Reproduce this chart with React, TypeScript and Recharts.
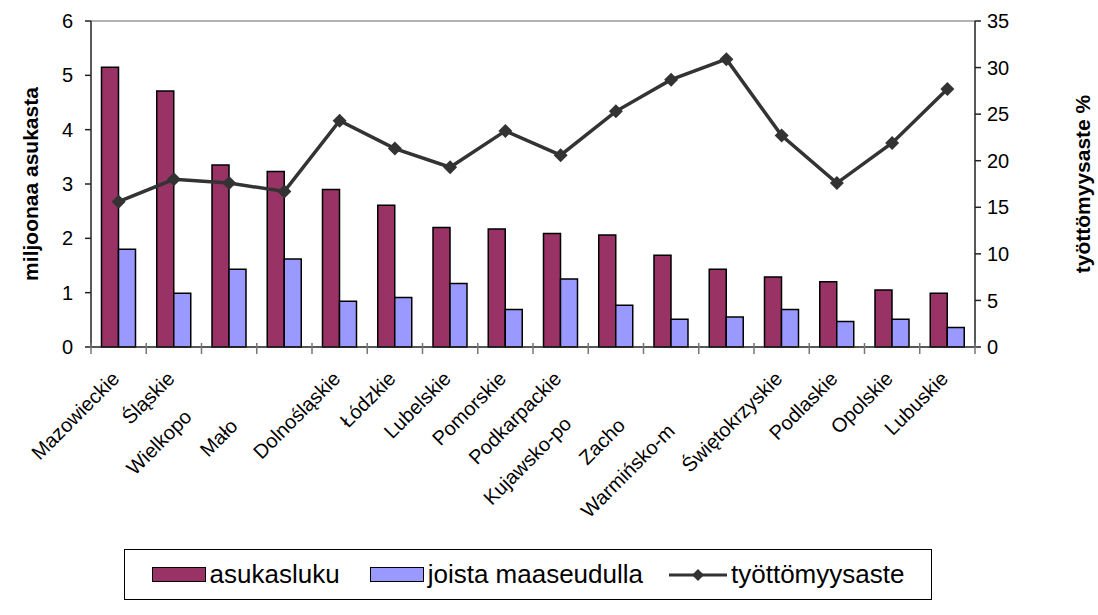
import React from 'react';
import { ComposedChart, Bar, Line, XAxis, YAxis, ReferenceLine } from 'recharts';

const regions = [
  'Mazowieckie', 'Śląskie', 'Wielkopolskie', 'Małopolskie', 'Dolnośląskie', 'Łódzkie',
  'Lubelskie', 'Pomorskie', 'Podkarpackie', 'Kujawsko-pomorskie', 'Zachodniopomorskie',
  'Warmińsko-mazurskie', 'Świętokrzyskie', 'Podlaskie', 'Opolskie', 'Lubuskie',
];
// what is left readable of each name under the axis (long ones get cut)
const tickLabels = [
  'Mazowieckie', 'Śląskie', 'Wielkopo', 'Mało', 'Dolnośląskie', 'Łódzkie',
  'Lubelskie', 'Pomorskie', 'Podkarpackie', 'Kujawsko-po', 'Zacho',
  'Warmińsko-m', 'Świętokrzyskie', 'Podlaskie', 'Opolskie', 'Lubuskie',
];
const population = [5.15, 4.71, 3.35, 3.23, 2.9, 2.61, 2.2, 2.17, 2.09, 2.06, 1.69, 1.43, 1.29, 1.2, 1.05, 0.99];
const rural = [1.8, 0.99, 1.43, 1.62, 0.84, 0.91, 1.17, 0.69, 1.25, 0.77, 0.51, 0.55, 0.69, 0.47, 0.51, 0.36];
const unemployment = [15.6, 18.0, 17.6, 16.7, 24.3, 21.3, 19.3, 23.2, 20.6, 25.3, 28.7, 30.9, 22.7, 17.6, 21.9, 27.7];
const leftTicks = [0, 1, 2, 3, 4, 5, 6];
const rightTicks = [0, 5, 10, 15, 20, 25, 30, 35];

const data = regions.map((name, i) => ({
  name,
  asukasluku: population[i],
  maaseutu: rural[i],
  tyottomyys: unemployment[i],
}));

const FONT = '"Liberation Sans", Arial, sans-serif';
const MAROON = '#993366';
const LILAC = '#9999FF';

// the cut labels sit further down their diagonal than the full ones
const labelShift = [0, 0, 54, 67, 0, 0, 0, 0, 0, 64, 66, 74, 0, 0, 0, 0];

const RegionTick = (props: any) => {
  const { x, y, payload, index } = props;
  const half = payload?.offset ?? 27.6;
  const shift = labelShift[index] ?? 0;
  const ax = x + 2 - shift * 0.707;
  const ay = y + 33 + shift * 0.707;
  return (
    <g>
      {index === 0 && <line x1={x - half} x2={x - half} y1={y - 4} y2={y + 7} stroke="#777" strokeWidth={1.5} />}
      <line x1={x + half} x2={x + half} y1={y - 4} y2={y + 7} stroke="#777" strokeWidth={1.5} />
      <text
        x={ax}
        y={ay}
        transform={`rotate(-45 ${ax} ${ay})`}
        textAnchor="end"
        fontSize={20}
        fontFamily={FONT}
        fill="#000"
      >
        {tickLabels[index]}
      </text>
    </g>
  );
};

const Diamond = (props: any) => {
  const { cx, cy } = props;
  if (cx == null || cy == null) return null;
  const r = 7;
  return <path d={`M${cx},${cy - r}L${cx + r},${cy}L${cx},${cy + r}L${cx - r},${cy}Z`} fill="#333" />;
};

const AxisTitle = ({ viewBox, value, dx }: any) => {
  const cx = viewBox.x + dx;
  const cy = viewBox.y + viewBox.height / 2;
  return (
    <text
      x={cx}
      y={cy}
      transform={`rotate(-90 ${cx} ${cy})`}
      textAnchor="middle"
      dominantBaseline="central"
      fontSize={21}
      fontWeight="bold"
      fontFamily={FONT}
      fill="#000"
    >
      {value}
    </text>
  );
};

const swatch = (color: string) => (
  <span
    style={{
      display: 'inline-block',
      width: 52,
      height: 13,
      background: color,
      border: '1.5px solid #000',
      marginRight: 4,
    }}
  />
);

const LegendBox = () => (
  <div
    style={{
      position: 'absolute',
      left: 124,
      top: 549,
      width: 806,
      height: 49,
      border: '1px solid #000',
      display: 'flex',
      alignItems: 'center',
      justifyContent: 'center',
      fontFamily: FONT,
      fontSize: 26,
      color: '#000',
      whiteSpace: 'nowrap',
    }}
  >
    {swatch(MAROON)}
    <span style={{ marginRight: 30 }}>asukasluku</span>
    {swatch(LILAC)}
    <span style={{ marginRight: 26 }}>joista maaseudulla</span>
    <svg width={58} height={16} style={{ marginRight: 4 }}>
      <line x1={0} x2={58} y1={8} y2={8} stroke="#333" strokeWidth={3} />
      <path d="M29,2L35,8L29,14L23,8Z" fill="#333" />
    </svg>
    <span>työttömyysaste</span>
  </div>
);

export default function App() {
  return (
    <div style={{ position: 'relative', width: 1098, height: 615, background: '#fff', fontFamily: FONT }}>
      <style>{'body{margin:0}'}</style>
      <ComposedChart
        width={1098}
        height={615}
        data={data}
        margin={{ top: 21, right: 0, left: 0, bottom: 0 }}
        barCategoryGap="19%"
        barGap={0}
      >
        <XAxis
          dataKey="name"
          interval={0}
          height={268}
          tickLine={false}
          tickSize={0}
          tickMargin={0}
          axisLine={{ stroke: '#222', strokeWidth: 1.5 }}
          tick={<RegionTick />}
        />
        <YAxis
          yAxisId="left"
          width={91}
          domain={[0, 6]}
          ticks={leftTicks}
          interval={0}
          tickSize={6}
          tickMargin={12}
          axisLine={{ stroke: '#222', strokeWidth: 1.5 }}
          tickLine={{ stroke: '#222', strokeWidth: 1.5 }}
          tick={{ fontSize: 20, fill: '#000', fontFamily: FONT }}
          label={<AxisTitle value="miljoonaa asukasta" dx={30} />}
        />
        <YAxis
          yAxisId="right"
          orientation="right"
          width={123}
          domain={[0, 35]}
          ticks={rightTicks}
          interval={0}
          tickSize={6}
          tickMargin={6}
          axisLine={{ stroke: '#222', strokeWidth: 1.5 }}
          tickLine={{ stroke: '#222', strokeWidth: 1.5 }}
          tick={{ fontSize: 20, fill: '#000', fontFamily: FONT }}
          label={<AxisTitle value="työttömyysaste %" dx={107} />}
        />
        <ReferenceLine yAxisId="left" y={6} stroke="#999" strokeWidth={1.5} />
        <Bar yAxisId="left" dataKey="asukasluku" fill={MAROON} stroke="#000" strokeWidth={1.5} isAnimationActive={false} />
        <Bar yAxisId="left" dataKey="maaseutu" fill={LILAC} stroke="#000" strokeWidth={1.5} isAnimationActive={false} />
        <Line
          yAxisId="right"
          type="linear"
          dataKey="tyottomyys"
          stroke="#333"
          strokeWidth={3.5}
          dot={<Diamond />}
          activeDot={false}
          isAnimationActive={false}
        />
      </ComposedChart>
      <LegendBox />
    </div>
  );
}
